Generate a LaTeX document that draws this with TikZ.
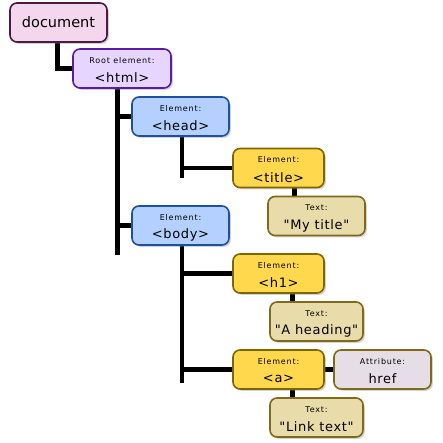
\documentclass[tikz,border=0pt]{standalone}
\usepackage{fontspec}
\setmainfont{DejaVu Sans}[Ligatures=TeXOff]
\newfontfamily\labfont{DejaVu Sans}[Ligatures=TeXOff, LetterSpace=10]
\newfontfamily\bigfont{DejaVu Sans}[Ligatures=TeXOff, LetterSpace=5]
\usetikzlibrary{shadows,backgrounds}
\definecolor{docfill}{HTML}{F4D7EC}
\definecolor{docdraw}{HTML}{4D1A42}
\definecolor{rootfill}{HTML}{E6D6FF}
\definecolor{rootdraw}{HTML}{5A1AAA}
\definecolor{elfill}{HTML}{B3D0FF}
\definecolor{eldraw}{HTML}{1F4FA0}
\definecolor{yfill}{HTML}{FFD84D}
\definecolor{ydraw}{HTML}{806600}
\definecolor{tfill}{HTML}{E9DCAB}
\definecolor{tdraw}{HTML}{806A1A}
\definecolor{afill}{HTML}{E6DEE6}
\begin{document}
\begin{tikzpicture}[x=1pt,y=-1pt,
  box/.style={draw, line width=1.6pt, rounded corners=7pt, minimum width=#1, inner sep=0pt,
    minimum height=39pt, drop shadow={opacity=0.35, shadow xshift=1.8pt, shadow yshift=-1.8pt}},
  small/.style={font=\labfont\fontsize{8}{9}\selectfont, inner sep=0pt},
  big/.style={font=\bigfont\fontsize{13}{15}\selectfont, inner sep=0pt},
  conn/.style={line width=4.5pt, black}]
\useasboundingbox (0,0) rectangle (443,443);
\coordinate (htmlend) at (117.5,255);
\coordinate (headend) at (182,178);
\coordinate (bodyend) at (182,383);
\node[box=97pt, fill=docfill, draw=docdraw] (doc) at (58.5,22.5) {};
\node[box=98pt, fill=rootfill, draw=rootdraw] (html) at (122,68.5) {};
\node[box=97pt, fill=elfill, draw=eldraw] (head) at (180.5,116.5) {};
\node[box=91pt, fill=yfill, draw=ydraw] (title) at (278.5,168) {};
\node[box=97pt, fill=tfill, draw=tdraw] (mytitle) at (316.5,216) {};
\node[box=97pt, fill=elfill, draw=eldraw] (body) at (180.5,225.5) {};
\node[box=91pt, fill=yfill, draw=ydraw] (h1) at (278.5,273.5) {};
\node[box=93pt, fill=tfill, draw=tdraw] (heading) at (316.5,321.5) {};
\node[box=91pt, fill=yfill, draw=ydraw] (a) at (278.5,369.5) {};
\node[box=97pt, fill=afill, draw=tdraw] (href) at (382.5,369.5) {};
\node[box=93pt, fill=tfill, draw=tdraw] (link) at (316.5,417.5) {};
\begin{scope}[on background layer]
  \draw[conn] ([xshift=-1pt]doc.south) |- (html.west);
  \draw[conn] (htmlend |- html.south) -- (htmlend);
  \draw[conn] (htmlend |- head.west) -- (head.west);
  \draw[conn] (htmlend |- body.west) -- (body.west);
  \draw[conn] (headend |- head.south) -- (headend);
  \draw[conn] (headend |- title.west) -- (title.west);
  \draw[conn] ([xshift=16pt]title.south) -- ([xshift=16pt]title.south |- mytitle.north);
  \draw[conn] (bodyend |- body.south) -- (bodyend);
  \draw[conn] (bodyend |- h1.west) -- (h1.west);
  \draw[conn] (bodyend |- a.west) -- (a.west);
  \draw[conn] ([xshift=14pt]h1.south) -- ([xshift=14pt]h1.south |- heading.north);
  \draw[conn] ([xshift=14pt]a.south) -- ([xshift=14pt]a.south |- link.north);
  \draw[conn] (a.east) -- (href.west);
\end{scope}
\node[inner sep=0pt, font=\fontsize{14.5}{16}\selectfont] (docT) at (doc.center) {document};
\foreach \n/\l/\t in {html/Root element:/{<html>}, head/Element:/{<head>}, title/Element:/{<title>},
  mytitle/Text:/{"My title"}, body/Element:/{<body>}, h1/Element:/{<h1>}, heading/Text:/{"A heading"},
  a/Element:/{<a>}, href/Attribute:/{href}, link/Text:/{"Link text"}}{
  \node[small] (\n L) at ([yshift=8pt]\n.center) {\l};
  \node[big] (\n T) at ([yshift=-9.5pt]\n.center) {\t};
}
\end{tikzpicture}
\end{document}
